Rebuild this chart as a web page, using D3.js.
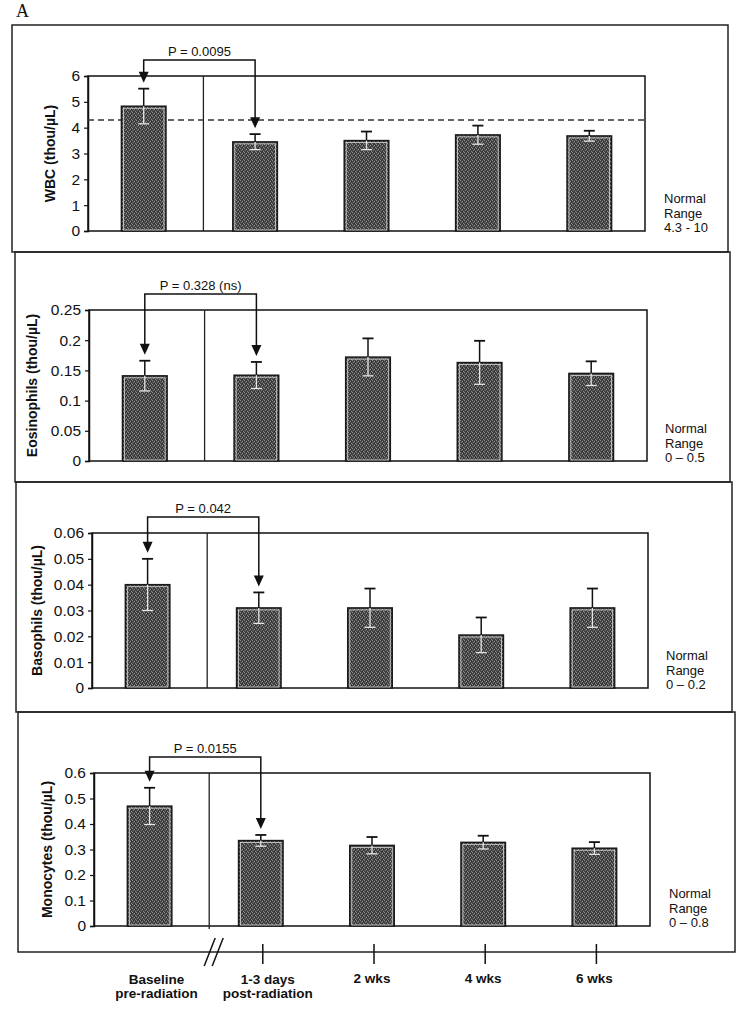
<!DOCTYPE html>
<html>
<head>
<meta charset="utf-8">
<script src="https://cdn.jsdelivr.net/npm/d3@7"></script>
<style>
  body { margin: 0; background: #fff; }
  text { font-family: "Liberation Sans", Arial, sans-serif; fill: #111; }
</style>
</head>
<body>
<div id="chart"></div>
<script>
// time points (x categories)
const categories = ["base", "d1-3", "w2", "w4", "w6"];
const xLabelLines = [["Baseline", "pre-radiation"], ["1-3 days", "post-radiation"], ["2 wks"], ["4 wks"], ["6 wks"]];

// values (mean, +/- error)
const wbcMean = [4.83, 3.45, 3.5, 3.72, 3.68];
const wbcErr = [0.68, 0.3, 0.35, 0.36, 0.2];
const eosMean = [0.141, 0.142, 0.172, 0.163, 0.145];
const eosErr = [0.025, 0.022, 0.031, 0.036, 0.02];
const basoMean = [0.040, 0.031, 0.031, 0.0205, 0.031];
const basoErr = [0.010, 0.006, 0.0075, 0.0068, 0.0075];
const monoMean = [0.47, 0.335, 0.316, 0.328, 0.305];
const monoErr = [0.072, 0.022, 0.033, 0.026, 0.024];

const yTitles = ["WBC  (thou/\u00b5L)", "Eosinophils (thou/\u00b5L)", "Basophils (thou/\u00b5L)", "Monocytes (thou/\u00b5L)"];
const yMax = [6, 0.25, 0.06, 0.6];
const yTicks = [
  [0, 1, 2, 3, 4, 5, 6],
  [0, 0.05, 0.1, 0.15, 0.2, 0.25],
  [0, 0.01, 0.02, 0.03, 0.04, 0.05, 0.06],
  [0, 0.1, 0.2, 0.3, 0.4, 0.5, 0.6]
];
const pLabels = ["P = 0.0095", "P = 0.328 (ns)", "P = 0.042", "P = 0.0155"];
const normalRanges = ["4.3 - 10", "0 \u2013 0.5", "0 \u2013 0.2", "0 \u2013 0.8"];
const wbcNormalLow = 4.3;

const means = [wbcMean, eosMean, basoMean, monoMean];
const errs = [wbcErr, eosErr, basoErr, monoErr];

// layout (scan is slightly skewed so each panel shifts a bit)
const W = 744, H = 1010;
const frameX = [[12, 728], [15, 730], [16, 732], [18, 735]];
const frameY = [[25, 252], [252, 482], [482, 712], [712, 952]];
const plotX = [[88, 645], [89, 647], [92, 648], [94, 650]];
const plotY = [[76, 231], [310, 461], [533, 688], [773, 926]];
const titleX = [50, 32, 37, 47];
const normalX = [664, 665, 666, 669];

const svg = d3.select("#chart").append("svg")
  .attr("width", W)
  .attr("height", H);

// stippled bar texture (fixed pattern)
const defs = svg.append("defs");
const pat = defs.append("pattern")
  .attr("id", "stipple")
  .attr("width", 4).attr("height", 4)
  .attr("patternUnits", "userSpaceOnUse");
pat.append("rect").attr("width", 4).attr("height", 4).attr("fill", "#464646");
[[0, 0, "#8c8c8c"], [2, 1, "#9a9a9a"], [1, 2, "#727272"], [3, 3, "#888888"], [3, 1, "#282828"], [1, 0, "#333333"], [2, 3, "#2c2c2c"]]
  .forEach(p => pat.append("rect").attr("x", p[0]).attr("y", p[1]).attr("width", 1).attr("height", 1).attr("fill", p[2]));

svg.append("text")
  .attr("x", 16).attr("y", 17)
  .style("font-family", "'Liberation Serif', 'Times New Roman', serif")
  .style("font-size", "18px")
  .text("A");

let lastX;

means.forEach((vals, i) => {
  const g = svg.append("g");
  const x = d3.scaleBand()
    .domain(categories)
    .range(plotX[i])
    .paddingInner(0.6)
    .paddingOuter(0.3);
  const y = d3.scaleLinear()
    .domain([0, yMax[i]])
    .range([plotY[i][1], plotY[i][0]]);
  lastX = x;
  const cx = c => x(c) + x.bandwidth() / 2;

  // panel frame
  g.append("rect")
    .attr("x", frameX[i][0]).attr("y", frameY[i][0])
    .attr("width", frameX[i][1] - frameX[i][0])
    .attr("height", frameY[i][1] - frameY[i][0])
    .attr("fill", "none").attr("stroke", "#222").attr("stroke-width", 1.5);

  // plot box
  g.append("rect")
    .attr("x", plotX[i][0]).attr("y", plotY[i][0])
    .attr("width", plotX[i][1] - plotX[i][0])
    .attr("height", plotY[i][1] - plotY[i][0])
    .attr("fill", "none").attr("stroke", "#111").attr("stroke-width", 1.5);

  // divider between baseline and post-radiation
  const divX = (cx(categories[0]) + cx(categories[1])) / 2 + 4;
  g.append("line")
    .attr("x1", divX).attr("x2", divX)
    .attr("y1", plotY[i][0]).attr("y2", plotY[i][1] + (i === 3 ? 3 : 0))
    .attr("stroke", "#222").attr("stroke-width", 1.3);

  // y axis
  const yAxis = g.append("g")
    .attr("transform", `translate(${plotX[i][0]},0)`)
    .call(d3.axisLeft(y).tickValues(yTicks[i]).tickSize(4).tickPadding(4)
      .tickFormat(d => d === 0 ? "0" : d3.format("~g")(d)));
  yAxis.select(".domain").attr("stroke", "#111").attr("stroke-width", 1.5);
  yAxis.selectAll(".tick line").attr("stroke", "#111").attr("stroke-width", 1.2);
  yAxis.selectAll(".tick text")
    .style("font-size", "15.5px")
    .style("font-family", "'Liberation Sans', Arial, sans-serif")
    .attr("fill", "#111");

  // y title
  g.append("text")
    .attr("transform", `translate(${titleX[i]},${(plotY[i][0] + plotY[i][1]) / 2}) rotate(-90)`)
    .attr("text-anchor", "middle")
    .attr("dy", "0.35em")
    .style("font-size", "14px")
    .style("font-weight", "bold")
    .text(yTitles[i]);

  // WBC normal low line
  if (i === 0) {
    g.append("line")
      .attr("x1", plotX[i][0]).attr("x2", plotX[i][1])
      .attr("y1", y(wbcNormalLow)).attr("y2", y(wbcNormalLow))
      .attr("stroke", "#333").attr("stroke-width", 1.5)
      .attr("stroke-dasharray", "6,4");
  }

  // bars
  g.selectAll(".bar")
    .data(categories)
    .join("rect")
    .attr("class", "bar")
    .attr("x", c => x(c))
    .attr("y", (c, j) => y(vals[j]))
    .attr("width", x.bandwidth())
    .attr("height", (c, j) => y(0) - y(vals[j]))
    .attr("fill", "url(#stipple)")
    .attr("stroke", "#1a1a1a").attr("stroke-width", 1.5);
  g.selectAll(".bar-in")
    .data(categories)
    .join("rect")
    .attr("class", "bar-in")
    .attr("x", c => x(c) + 2)
    .attr("y", (c, j) => y(vals[j]) + 2)
    .attr("width", x.bandwidth() - 4)
    .attr("height", (c, j) => Math.max(0, y(0) - y(vals[j]) - 3))
    .attr("fill", "none")
    .attr("stroke", "#d8d8d8").attr("stroke-width", 0.8);

  // error bars: upper part black, lower part light inside the bar
  const e = errs[i];
  const capW = 5.5;
  categories.forEach((c, j) => {
    const xc = cx(c);
    g.append("line")
      .attr("x1", xc).attr("x2", xc)
      .attr("y1", y(vals[j])).attr("y2", y(vals[j] + e[j]))
      .attr("stroke", "#111").attr("stroke-width", 1.5);
    g.append("line")
      .attr("x1", xc - capW).attr("x2", xc + capW)
      .attr("y1", y(vals[j] + e[j])).attr("y2", y(vals[j] + e[j]))
      .attr("stroke", "#111").attr("stroke-width", 1.8);
    g.append("line")
      .attr("x1", xc).attr("x2", xc)
      .attr("y1", y(vals[j])).attr("y2", y(vals[j] - e[j]))
      .attr("stroke", "#e6e6e6").attr("stroke-width", 1.3);
    g.append("line")
      .attr("x1", xc - capW).attr("x2", xc + capW)
      .attr("y1", y(vals[j] - e[j])).attr("y2", y(vals[j] - e[j]))
      .attr("stroke", "#e6e6e6").attr("stroke-width", 1.3);
  });

  // significance bracket with arrows
  const bx0 = cx(categories[0]), bx1 = cx(categories[1]);
  const by = plotY[i][0] - 16;
  const tip0 = y(vals[0] + e[0]) - 6;
  const tip1 = y(vals[1] + e[1]) - 6;
  g.append("path")
    .attr("d", `M${bx0},${tip0 - 9}V${by}H${bx1}V${tip1 - 9}`)
    .attr("fill", "none").attr("stroke", "#111").attr("stroke-width", 1.5);
  [[bx0, tip0], [bx1, tip1]].forEach(t => {
    g.append("path")
      .attr("d", `M${t[0] - 5},${t[1] - 11}L${t[0] + 5},${t[1] - 11}L${t[0]},${t[1]}Z`)
      .attr("fill", "#111");
  });
  g.append("text")
    .attr("x", (bx0 + bx1) / 2)
    .attr("y", by - 4)
    .attr("text-anchor", "middle")
    .style("font-size", "13px")
    .text(pLabels[i]);

  // normal range note
  const nr = g.append("text")
    .attr("x", normalX[i])
    .attr("y", plotY[i][1] - 28)
    .style("font-size", "13px");
  ["Normal", "Range", normalRanges[i]].forEach((s, k) => {
    nr.append("tspan").attr("x", normalX[i]).attr("dy", k === 0 ? 0 : 14.5).text(s);
  });
});

// x axis ticks under the last panel
const baseY = frameY[3][1];
const xg = svg.append("g");
xg.selectAll(".xt")
  .data(categories.slice(1))
  .join("line")
  .attr("class", "xt")
  .attr("x1", c => lastX(c) + lastX.bandwidth() / 2 + 2)
  .attr("x2", c => lastX(c) + lastX.bandwidth() / 2 + 2)
  .attr("y1", baseY - 8).attr("y2", baseY + 12)
  .attr("stroke", "#111").attr("stroke-width", 1.5);

// axis break mark
const brk = (lastX(categories[0]) + lastX.bandwidth() / 2 + lastX(categories[1]) + lastX.bandwidth() / 2) / 2 + 9;
[-4, 4].forEach(o => {
  xg.append("line")
    .attr("x1", brk + o - 6).attr("y1", baseY + 14)
    .attr("x2", brk + o + 5).attr("y2", baseY - 14)
    .attr("stroke", "#111").attr("stroke-width", 1.5);
});

// x labels
xLabelLines.forEach((lines, j) => {
  const lx = lastX(categories[j]) + lastX.bandwidth() / 2 + (j < 2 ? 7 : 0);
  const t = xg.append("text")
    .attr("x", lx)
    .attr("y", lines.length > 1 ? 984 : 983)
    .attr("text-anchor", "middle")
    .style("font-size", "13.5px")
    .style("font-weight", "bold");
  lines.forEach((s, k) => {
    t.append("tspan")
      .attr("x", lx)
      .attr("dy", k === 0 ? 0 : 13.5)
      .text(s);
  });
});
</script>
</body>
</html>
